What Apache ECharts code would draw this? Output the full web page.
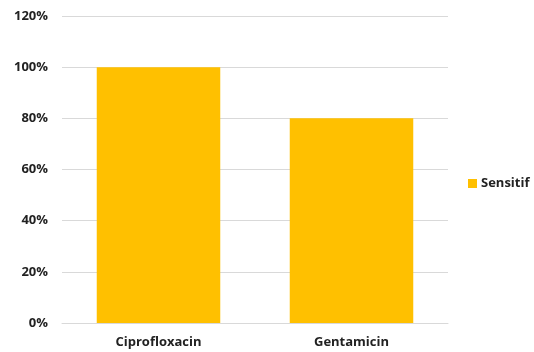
<!DOCTYPE html>
<html>
<head>
<meta charset="utf-8">
<script src="https://cdn.jsdelivr.net/npm/echarts@6/dist/echarts.min.js"></script>
<style>
  html, body { margin: 0; padding: 0; background: #fff; }
  #chart { width: 534px; height: 352px; }
</style>
</head>
<body>
<div id="chart"></div>
<script>
// Antibiotic susceptibility share per drug
const categories = ['Ciprofloxacin', 'Gentamicin'];
const seriesName = 'Sensitif';
const sensitifValues = [100, 80];
const yTicks = [0, 20, 40, 60, 80, 100, 120];

const font = '"Open Sans", "Liberation Sans", sans-serif';

const chart = echarts.init(document.getElementById('chart'));
chart.setOption({
  backgroundColor: '#ffffff',
  animation: false,
  grid: { left: 62, right: 86, top: 16, bottom: 29 },
  legend: {
    data: [seriesName],
    orient: 'vertical',
    left: 463,
    top: 172,
    itemWidth: 9,
    itemHeight: 9,
    itemGap: 6,
    icon: 'rect',
    textStyle: { fontFamily: font, fontWeight: 'bold', fontSize: 13, color: '#222', padding: [0, 0, 0, -1] }
  },
  xAxis: {
    type: 'category',
    data: categories,
    axisLine: { show: true, lineStyle: { color: '#d9d9d9', width: 1 } },
    axisTick: { show: false },
    axisLabel: { fontFamily: font, fontWeight: 'bold', fontSize: 13, color: '#222', margin: 13 }
  },
  yAxis: {
    type: 'value',
    min: yTicks[0],
    max: yTicks[yTicks.length - 1],
    interval: 20,
    axisLine: { show: false },
    axisTick: { show: false },
    splitLine: { lineStyle: { color: '#d9d9d9', width: 1 } },
    axisLabel: {
      fontFamily: font, fontWeight: 'bold', fontSize: 13, color: '#222', margin: 14,
      formatter: v => v + '%'
    }
  },
  series: [{
    name: seriesName,
    type: 'bar',
    data: sensitifValues,
    barWidth: '64%',
    itemStyle: { color: '#FFC000' }
  }]
});
</script>
</body>
</html>
